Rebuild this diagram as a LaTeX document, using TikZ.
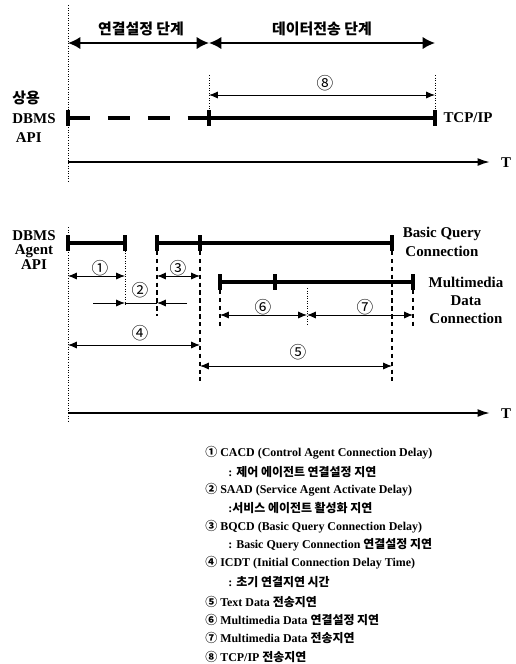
\documentclass[tikz,border=0pt]{standalone}
\usepackage{fontspec}
\setmainfont{Liberation Serif}
\newfontfamily\krfont{Noto Sans CJK KR}
\newcommand{\kr}[1]{{\krfont #1}}
\usetikzlibrary{arrows.meta,calc}

\begin{document}
\begin{tikzpicture}[x=0.02cm, y=-0.02cm,
  bar/.style={line width=2.2pt},
  endbar/.style={fill=black, inner sep=0pt, minimum width=2.2pt, minimum height=9pt},
  guide/.style={densely dotted, line width=0.45pt},
  guidedash/.style={dash pattern=on 2.5pt off 2pt, line width=0.6pt},
  phase/.style={{Latex[length=7pt,width=7pt]}-{Latex[length=7pt,width=7pt]}, line width=1pt},
  dim/.style={{Latex[length=5pt,width=4pt]}-{Latex[length=5pt,width=4pt]}, line width=0.5pt},
  dimto/.style={-{Latex[length=5pt,width=4pt]}, line width=0.5pt},
  axis/.style={-{Latex[length=7pt,width=4.5pt]}, line width=1.1pt},
  lbl/.style={font=\fontsize{8.5}{10}\selectfont\bfseries, align=center, inner sep=0pt},
  num/.style={font=\krfont\fontsize{9.5}{10}\selectfont, inner sep=0pt},
  legend/.style={font=\fontsize{6.8}{8}\selectfont\bfseries, anchor=west, inner sep=0pt}]
  \useasboundingbox (0,0) rectangle (516,664);

  % time points
  \coordinate (t0) at (68,0);
  \coordinate (s1) at (209,0);
  \coordinate (s2) at (435,0);
  \coordinate (tA) at (125,0);
  \coordinate (tB) at (157,0);
  \coordinate (tC) at (200,0);
  \coordinate (tD) at (220,0);
  \coordinate (tE) at (275,0);
  \coordinate (tF) at (307,0);
  \coordinate (tG) at (392,0);
  \coordinate (tH) at (413,0);
  \coordinate (tEnd) at (490,0);

  %% ---- commercial DBMS API ----
  \draw[guide] (68,5) -- (68,183);
  % phases
  \draw[phase] (t0 |- 0,43) -- (s1 |- 0,43);
  \draw[phase] (s1 |- 0,43) -- (s2 |- 0,43);
  \node[lbl, font=\krfont\bfseries\fontsize{8.5}{10}\selectfont] (ph1) at (141,29) {연결설정 단계};
  \node[lbl, font=\krfont\bfseries\fontsize{8.5}{10}\selectfont] (ph2) at (322,29) {데이터전송 단계};
  % TCP/IP delay
  \draw[guide] (s1 |- 0,75) -- (s1 |- 0,122);
  \draw[guide] (s2 |- 0,75) -- (s2 |- 0,122);
  \node[num] (n8) at (325,83) {⑧};
  \draw[dim] (s1 |- 0,95) -- (s2 |- 0,95);
  % connection line
  \draw[bar, dash pattern=on 12.5pt off 10.2pt] (t0 |- 0,118) -- (s1 |- 0,118);
  \draw[bar] (s1 |- 0,118) -- (s2 |- 0,118);
  \node[endbar] (e1) at (t0 |- 0,118) {};
  \node[endbar] (e2) at (s1 |- 0,118) {};
  \node[endbar] (e3) at (s2 |- 0,118) {};
  \node[lbl] (tcp) at (468,118) {TCP/IP};
  \node[lbl, font=\fontsize{8.5}{11}\selectfont\bfseries, align=left] (api1) at (34,117) {\kr{상용}\\DBMS\\\hspace*{2pt}API};
  \draw[axis] (t0 |- 0,162) -- (tEnd |- 0,162);
  \node[lbl] (T1) at (506,163) {T};

  %% ---- DBMS Agent API ----
  \draw[guide] (68,227) -- (68,422);
  % basic query connection
  \draw[bar] (t0 |- 0,243) -- (tA |- 0,243);
  \draw[bar] (tB |- 0,243) -- (tG |- 0,243);
  \node[endbar] (b1) at (t0 |- 0,243) {};
  \node[endbar] (b2) at (tA |- 0,243) {};
  \node[endbar] (b3) at (tB |- 0,243) {};
  \node[endbar] (b4) at (tC |- 0,243) {};
  \node[endbar] (b5) at (tG |- 0,243) {};
  \node[lbl, font=\fontsize{8.5}{10.8}\selectfont\bfseries] (bqc) at (442,242) {Basic Query\\Connection};
  % multimedia data connection
  \draw[bar] (tD |- 0,282) -- (tH |- 0,282);
  \node[endbar] (m1) at (tD |- 0,282) {};
  \node[endbar] (m2) at (tE |- 0,282) {};
  \node[endbar] (m3) at (tH |- 0,282) {};
  \node[lbl, font=\fontsize{8.5}{10.2}\selectfont\bfseries] (mdc) at (466,300) {Multimedia\\Data\\Connection};
  \node[lbl, font=\fontsize{8.5}{8.5}\selectfont\bfseries] (api2) at (34,250) {DBMS\\Agent\\API};

  % guides
  \draw[guide] (tA |- 0,243) -- (tA |- 0,305);
  \draw[guidedash] (tB |- 0,243) -- (tB |- 0,316);
  \draw[guidedash] (tC |- 0,243) -- (tC |- 0,381);
  \draw[guidedash] (tG |- 0,243) -- (tG |- 0,381);
  \draw[guidedash] (tD |- 0,282) -- (tD |- 0,328);
  \draw[guide] (tF |- 0,288) -- (tF |- 0,326);
  \draw[guidedash] (tH |- 0,282) -- (tH |- 0,328);

  % delays
  \node[num] (n1) at (100,268) {①};
  \draw[dim] (t0 |- 0,276) -- (tA |- 0,276);
  \node[num] (n3) at (178,268) {③};
  \draw[dim] (tB |- 0,276) -- (tC |- 0,276);
  \node[num] (n2) at (140,290) {②};
  \coordinate (saadL) at (93,303);
  \coordinate (saadR) at (187,303);
  \draw[dimto] (saadL) -- (tA |- saadL);
  \draw[line width=0.5pt] (tA |- saadL) -- (tB |- saadL);
  \draw[dimto] (saadR) -- (tB |- saadR);
  \node[num] (n4) at (140,333) {④};
  \draw[dim] (t0 |- 0,345) -- (tC |- 0,345);
  \node[num] (n6) at (263,307) {⑥};
  \draw[dim] (tD |- 0,315) -- (tF |- 0,315);
  \node[num] (n7) at (365,307) {⑦};
  \draw[dim] (tF |- 0,315) -- (tH |- 0,315);
  \node[num] (n5) at (298,352) {⑤};
  \draw[dim] (tC |- 0,366) -- (tG |- 0,366);
  \draw[axis] (t0 |- 0,413) -- (tEnd |- 0,413);
  \node[lbl] (T2) at (506,414) {T};

  %% ---- legend ----
  \node[legend] (l1) at (205,453) {\kr{①} CACD (Control Agent Connection Delay)};
  \node[legend] (l1k) at (228,472) {: \kr{제어 에이전트 연결설정 지연}};
  \node[legend] (l2) at (205,490) {\kr{②} SAAD (Service Agent Activate Delay)};
  \node[legend] (l2k) at (228,508) {:\kr{서비스 에이전트 활성화 지연}};
  \node[legend] (l3) at (205,527) {\kr{③} BQCD (Basic Query Connection Delay)};
  \node[legend] (l3k) at (228,545) {: Basic Query Connection \kr{연결설정 지연}};
  \node[legend] (l4) at (205,563) {\kr{④} ICDT (Initial Connection Delay Time)};
  \node[legend] (l4k) at (228,582) {: \kr{초기 연결지연 시간}};
  \node[legend] (l5) at (205,602) {\kr{⑤} Text Data \kr{전송지연}};
  \node[legend] (l6) at (205,620) {\kr{⑥} Multimedia Data \kr{연결설정 지연}};
  \node[legend] (l7) at (205,638) {\kr{⑦} Multimedia Data \kr{전송지연}};
  \node[legend] (l8) at (205,657) {\kr{⑧} TCP/IP \kr{전송지연}};
\end{tikzpicture}
\end{document}
